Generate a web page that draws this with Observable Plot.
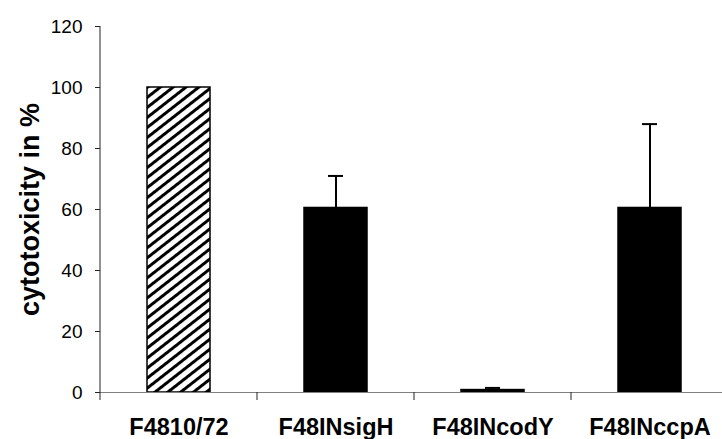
<!DOCTYPE html>
<html>
<head>
<meta charset="utf-8">
<script src="https://cdn.jsdelivr.net/npm/d3@7"></script>
<script src="https://cdn.jsdelivr.net/npm/@observablehq/plot@0.6"></script>
<style>
  html, body { margin: 0; padding: 0; background: #fff; }
  #chart { width: 722px; height: 439px; }
</style>
</head>
<body>
<div id="chart"></div>
<script>
const categories = ["F4810/72", "F48INsigH", "F48INcodY", "F48INccpA"];
const values = [100, 60.5, 0.8, 60.5];
const errorTops = [null, 71, 1.5, 88];
const yTicks = [0, 20, 40, 60, 80, 100, 120];
const yLabel = "cytotoxicity in %";

const data = categories.map((c, i) => ({cat: c, value: values[i], top: errorTops[i], hatched: i === 0}));
const errData = data.filter(d => d.top != null);

const font = "'Liberation Sans', Arial, sans-serif";

const defsMark = () => {
  const svg = d3.create("svg:defs");
  const p = svg.append("pattern")
    .attr("id", "hatch")
    .attr("patternUnits", "userSpaceOnUse")
    .attr("width", 8).attr("height", 7.9)
    .attr("patternTransform", "rotate(-38)");
  p.append("rect").attr("width", 8).attr("height", 7.9).attr("fill", "#fff");
  p.append("rect").attr("y", 0).attr("width", 8).attr("height", 3).attr("fill", "#000");
  return svg.node();
};

const axisLines = (index, scales, values, dimensions) => {
  const x = scales.x, y = scales.y;
  const bw = x.bandwidth ? x.bandwidth() : 0;
  const centers = categories.map(c => x(c) + bw / 2);
  const step = centers[1] - centers[0];
  const g = d3.create("svg:g");
  const x0 = centers[0] - step / 2;
  g.append("line")
    .attr("x1", x0).attr("x2", x0)
    .attr("y1", y(120)).attr("y2", y(0) + 8)
    .attr("stroke", "#222").attr("stroke-width", 1);
  for (let k = 1; k <= categories.length; k++) {
    const xb = x0 + k * step;
    g.append("line")
      .attr("x1", xb).attr("x2", xb)
      .attr("y1", y(0)).attr("y2", y(0) + 8)
      .attr("stroke", "#222").attr("stroke-width", 1);
  }
  return g.node();
};

const chart = Plot.plot({
  width: 722,
  height: 439,
  marginLeft: 100,
  marginRight: 0,
  marginTop: 26,
  marginBottom: 47,
  style: {fontFamily: font, fontSize: "19px", background: "#fff", color: "#000", overflow: "visible"},
  x: {type: "band", domain: categories, range: [100, 728], paddingInner: 0.6, paddingOuter: 0.3, axis: null},
  y: {domain: [0, 120], range: [392, 26], axis: null},
  marks: [
    defsMark,
    Plot.ruleX(errData, {x: "cat", y1: "value", y2: "top", stroke: "#000", strokeWidth: 2}),
    Plot.tickY(errData, {x: "cat", y: "top", stroke: "#000", strokeWidth: 2, inset: 24}),
    Plot.barY(data, {x: "cat", y: "value", fill: d => d.hatched ? "url(#hatch)" : "#000", stroke: "#000", strokeWidth: 1.5}),
    Plot.ruleY([0], {stroke: "#808080", strokeWidth: 1.2}),
    axisLines,
    Plot.axisY({ticks: yTicks, tickSize: 5, stroke: "#222", tickFormat: () => ""}),
    Plot.text(yTicks, {y: d => d, text: d => String(d), frameAnchor: "left", textAnchor: "end", dx: -18, fontSize: 19, fill: "#000"}),
    Plot.axisX({tickSize: 0, tickPadding: 26, fontSize: 23.5, fontWeight: "bold", label: null}),
    Plot.text([yLabel], {frameAnchor: "left", textAnchor: "middle", dx: -70, rotate: -90, fontSize: 27, fontWeight: "bold", text: d => d})
  ]
});

document.getElementById("chart").appendChild(chart);
</script>
</body>
</html>
